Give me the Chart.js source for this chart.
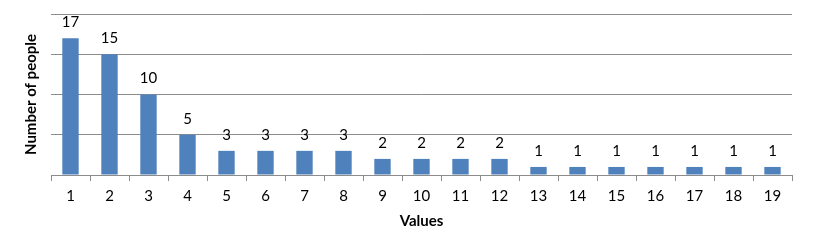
<!DOCTYPE html>
<html>
<head>
<meta charset="utf-8">
<script src="https://cdn.jsdelivr.net/npm/chart.js@4"></script>
<style>
html,body{margin:0;padding:0;background:#fff;}
#wrap{width:817px;height:243px;position:relative;}
</style>
</head>
<body>
<div id="wrap"><canvas id="c" width="817" height="243"></canvas></div>
<script>
const categories = ['1','2','3','4','5','6','7','8','9','10','11','12','13','14','15','16','17','18','19'];
const people = [17,15,10,5,3,3,3,3,2,2,2,2,1,1,1,1,1,1,1];
const yTicks = [0,5,10,15,20];

const FONT = 'Lato, "Open Sans", sans-serif';

const valueLabels = {
  id: 'valueLabels',
  afterDatasetsDraw(chart) {
    const ctx = chart.ctx;
    const meta = chart.getDatasetMeta(0);
    ctx.save();
    ctx.font = '15px ' + FONT;
    ctx.fillStyle = '#000';
    ctx.textAlign = 'center';
    ctx.textBaseline = 'middle';
    meta.data.forEach((bar, i) => {
      ctx.fillText(String(people[i]), bar.x, bar.y - 16);
    });
    ctx.restore();
  }
};

new Chart(document.getElementById('c'), {
  type: 'bar',
  data: {
    labels: categories,
    datasets: [{
      data: people,
      backgroundColor: '#4F81BD',
      borderWidth: 0,
      barPercentage: 0.42,
      categoryPercentage: 1.0
    }]
  },
  options: {
    responsive: false,
    animation: false,
    events: [],
    layout: { padding: { top: 14, right: 25, bottom: 0, left: 0 } },
    plugins: { legend: { display: false }, tooltip: { enabled: false } },
    scales: {
      x: {
        offset: true,
        grid: { offset: true, drawOnChartArea: false, drawTicks: true, tickLength: 6, color: '#8c8c8c' },
        border: { display: true, color: '#8c8c8c', width: 1 },
        ticks: { color: '#000', font: { family: FONT, size: 15 }, padding: 6, maxRotation: 0, autoSkip: false },
        title: { display: true, text: 'Values', color: '#000', font: { family: FONT, size: 15, weight: 'bold' }, padding: { top: 0, bottom: 13 } },
        afterFit(scale) { scale.height = 68; }
      },
      y: {
        min: 0, max: 20,
        afterBuildTicks(scale) { scale.ticks = yTicks.map(v => ({ value: v })); },
        grid: { color: '#8c8c8c', drawTicks: false },
        border: { display: false },
        ticks: { display: false },
        title: { display: true, text: 'Number of people', color: '#000', font: { family: FONT, size: 15, weight: 'bold' }, padding: { top: 22, bottom: 0 } },
        afterFit(scale) { scale.width = 51; }
      }
    }
  },
  plugins: [valueLabels]
});
</script>
</body>
</html>
